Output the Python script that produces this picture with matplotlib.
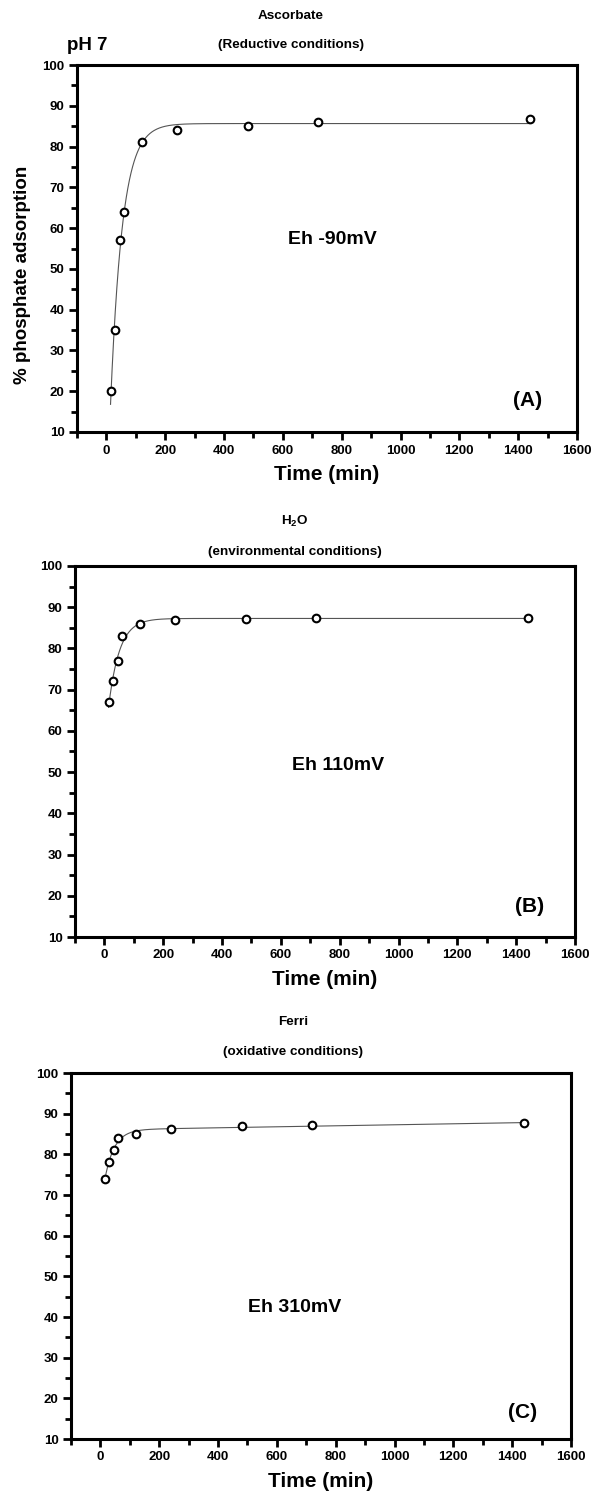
import matplotlib
matplotlib.use("Agg")
import matplotlib.pyplot as plt
import numpy as np
from matplotlib.ticker import MultipleLocator

plt.rcParams['font.family'] = ['Liberation Sans', 'DejaVu Sans']
plt.rcParams['font.weight'] = 'bold'
plt.rcParams['mathtext.fontset'] = 'custom'
plt.rcParams['mathtext.rm'] = 'Liberation Sans:bold'
plt.rcParams['mathtext.it'] = 'Liberation Sans:bold'

# sampling times (min), same for all three experiments
time_min = [15, 30, 45, 60, 120, 240, 480, 720, 1440]

# % phosphate adsorption
ascorbate = [20, 35, 57, 64, 81, 84, 85, 86, 86.7]
water = [67, 72, 77, 83, 86, 87, 87.1, 87.3, 87.3]
ferri = [74, 78, 81, 84, 85, 86.2, 87, 87.2, 87.6]

W, H = 603, 1499


def fit_curve(t, y, slope=False):
    # y = a - b*exp(-k t) (+ c*t), k by grid search, the rest by least squares
    t = np.asarray(t, float)
    y = np.asarray(y, float)
    best = None
    for k in np.logspace(-3, 0, 600):
        cols = [np.ones_like(t), -np.exp(-k * t)]
        if slope:
            cols.append(t)
        X = np.column_stack(cols)
        coef, *_ = np.linalg.lstsq(X, y, rcond=None)
        err = np.sum((X @ coef - y) ** 2)
        if best is None or err < best[0]:
            best = (err, k, coef)
    _, k, coef = best
    tt = np.linspace(t.min() - 1, t.max(), 800)
    yy = coef[0] - coef[1] * np.exp(-k * tt)
    if slope:
        yy = yy + coef[2] * tt
    return tt, yy


def px_axes(left, right, top, bottom):
    return [left / W, 1 - bottom / H, (right - left) / W, (bottom - top) / H]


def panel(ax, y, slope=False):
    tt, yy = fit_curve(time_min, y, slope)
    ax.plot(tt, yy, color='#555555', lw=0.8, zorder=2)
    ax.plot(time_min, y, 'o', mfc='white', mec='black', mew=1.5, ms=5.5, zorder=3)
    ax.set_xlim(-100, 1600)
    ax.set_ylim(10, 100)
    ax.xaxis.set_major_locator(MultipleLocator(200))
    ax.xaxis.set_minor_locator(MultipleLocator(100))
    ax.yaxis.set_major_locator(MultipleLocator(10))
    ax.yaxis.set_minor_locator(MultipleLocator(5))
    for s in ax.spines.values():
        s.set_linewidth(2.2)
    ax.tick_params(which='major', direction='out', length=6, width=2,
                   labelsize=9.5, pad=3)
    ax.tick_params(which='minor', direction='out', length=4, width=2)
    ax.tick_params(top=False, right=False)
    for lab in ax.get_xticklabels() + ax.get_yticklabels():
        lab.set_fontweight('bold')
    ax.set_xlabel('Time (min)', fontsize=15, fontweight='bold', labelpad=6)


fig = plt.figure(figsize=(W / 100, H / 100), dpi=100)

axA = fig.add_axes(px_axes(77, 577, 65, 432))
panel(axA, ascorbate)
axB = fig.add_axes(px_axes(75, 575, 566, 937))
panel(axB, water)
axC = fig.add_axes(px_axes(71, 571, 1073, 1439))
panel(axC, ferri, slope=True)


def ftxt(x, y, s, **kw):
    fig.text(x / W, 1 - y / H, s, **kw)


title_x = 291
ftxt(title_x, 16, 'Ascorbate', ha='center', va='center', fontsize=9.7)
ftxt(title_x, 45, '(Reductive conditions)', ha='center', va='center', fontsize=9.7)
ftxt(67, 45, 'pH 7', ha='left', va='center', fontsize=13.5)
ftxt(title_x + 4, 521, 'H$_2$O', ha='center', va='center', fontsize=9.7)
ftxt(title_x + 4, 552, '(environmental conditions)', ha='center', va='center', fontsize=9.7)
ftxt(title_x + 2, 1022, 'Ferri', ha='center', va='center', fontsize=9.7)
ftxt(title_x + 2, 1052, '(oxidative conditions)', ha='center', va='center', fontsize=9.7)

ftxt(23, 275, '% phosphate adsorption', rotation=90, ha='center', va='center',
     fontsize=13.5)

ftxt(288, 239, 'Eh -90mV', ha='left', va='center', fontsize=14)
ftxt(292, 765, 'Eh 110mV', ha='left', va='center', fontsize=14)
ftxt(248, 1308, 'Eh 310mV', ha='left', va='center', fontsize=14)

ftxt(528, 401, '(A)', ha='center', va='center', fontsize=15)
ftxt(530, 906, '(B)', ha='center', va='center', fontsize=15)
ftxt(523, 1412, '(C)', ha='center', va='center', fontsize=15)

fig.savefig('out.png', dpi=100)
